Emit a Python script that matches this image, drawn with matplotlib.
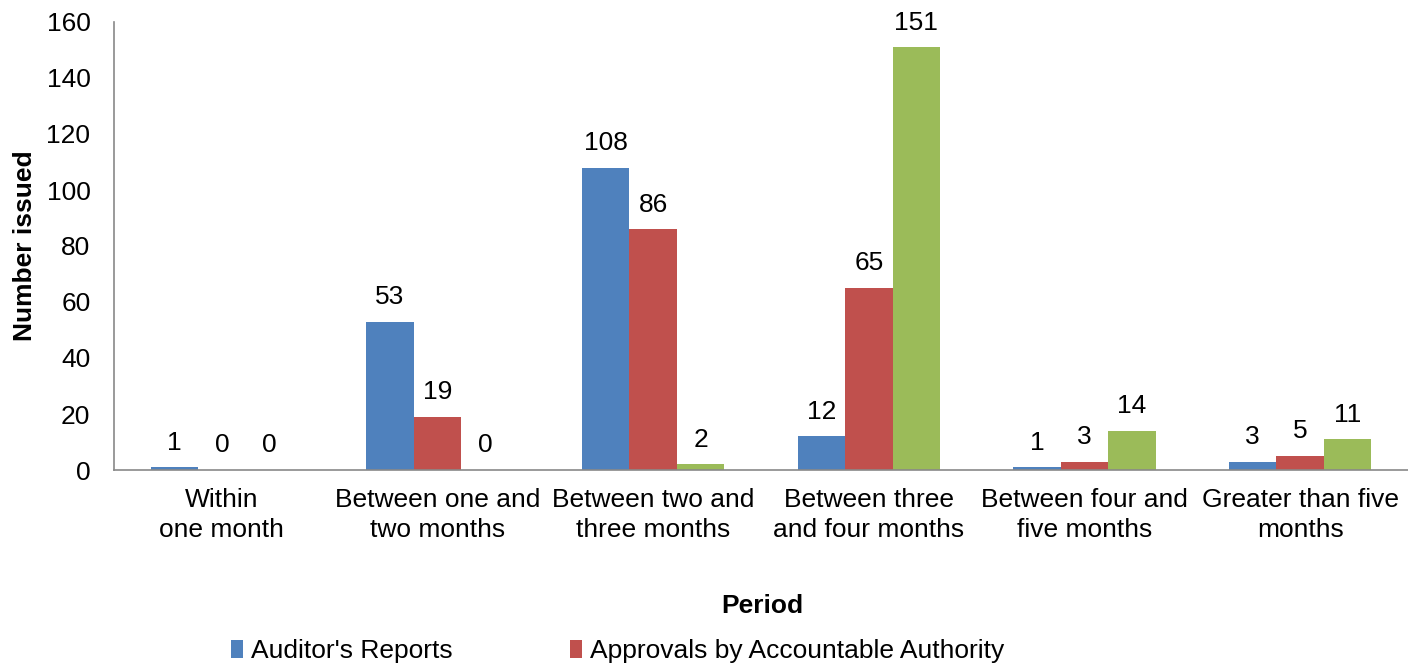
import numpy as np
import matplotlib.pyplot as plt

plt.rcParams['font.family'] = ['Liberation Sans', 'DejaVu Sans']

# data
periods = ["Within\none month", "Between one and\ntwo months", "Between two and\nthree months",
           "Between three\nand four months", "Between four and\nfive months", "Greater than five\nmonths"]
auditor_reports = [1, 53, 108, 12, 1, 3]
approvals = [0, 19, 86, 65, 3, 5]
third_series = [0, 0, 2, 151, 14, 11]

colors = ["#4F81BD", "#C0504D", "#9BBB59"]
fs = 19

fig = plt.figure(figsize=(14.08, 6.66), dpi=100)
ax = fig.add_axes([114 / 1408, 1 - 470 / 666, 1 - 114 / 1408, (470 - 22) / 666])

x = np.arange(len(periods))
w = 0.22
series = [(auditor_reports, "Auditor's Reports"),
          (approvals, "Approvals by Accountable Authority"),
          (third_series, None)]
handles = []
for i, (vals, name) in enumerate(series):
    bars = ax.bar(x + (i - 1) * w, vals, w, color=colors[i], label=name)
    if name:
        handles.append(bars)
    for b, v in zip(bars, vals):
        ax.annotate(str(v), (b.get_x() + b.get_width() / 2, v), xytext=(0, 9),
                    textcoords="offset points", ha="center", va="bottom", fontsize=fs)

ax.set_xlim(-0.5, len(periods) - 0.5)
ax.set_ylim(0, 160)
ax.set_yticks(range(0, 161, 20))
ax.set_xticks(x)
ax.set_xticklabels(periods, fontsize=fs, linespacing=1.32)
ax.tick_params(axis='y', labelsize=fs, length=0, pad=17)
ax.tick_params(axis='x', length=0, pad=13)

for s in ['top', 'right']:
    ax.spines[s].set_visible(False)
for s in ['left', 'bottom']:
    ax.spines[s].set_color('#898989')
    ax.spines[s].set_linewidth(1.2)

fig.text(25 / 1408, 1 - 246 / 666, "Number issued", rotation=90, fontsize=fs,
         fontweight='bold', ha='center', va='center')
fig.text(762 / 1408, 1 - 606 / 666, "Period", fontsize=fs, fontweight='bold',
         ha='center', va='center')

fig.legend(handles=handles, loc='center left', bbox_to_anchor=(231 / 1408, 1 - 651 / 666),
           ncol=2, frameon=False, fontsize=fs, borderpad=0, borderaxespad=0,
           handlelength=0.45, handleheight=0.65, handletextpad=0.3, columnspacing=4.45)

fig.savefig("out.png", dpi=100)
